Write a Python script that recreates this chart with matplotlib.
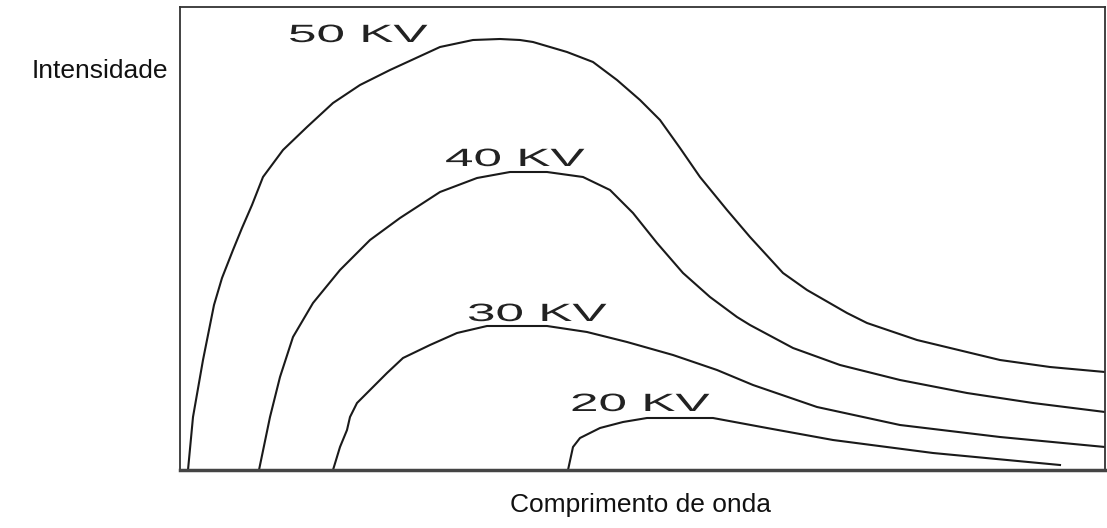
import matplotlib
matplotlib.use('Agg')
import matplotlib.pyplot as plt
from matplotlib.patheffects import AbstractPathEffect
from matplotlib.transforms import Affine2D

# curve data (wavelength, intensity), arbitrary units
kv50_x = [8, 13, 23, 34, 42, 53, 62, 72, 83, 103, 127, 153, 180, 210, 260, 293, 320, 340, 353, 387,
          413, 437, 460, 480, 500, 520, 547, 570, 603, 627, 667, 687, 737, 820, 870, 925]
kv50_y = [0, 53, 110, 165, 192, 220, 242, 265, 293, 320, 343, 367, 385, 400, 423, 430, 431, 430, 428, 418,
          408, 390, 370, 350, 322, 293, 260, 233, 197, 180, 157, 147, 130, 110, 103, 98]

kv40_x = [79, 90, 100, 113, 133, 160, 190, 220, 260, 297, 330, 367, 403, 430, 453, 477, 503, 530,
          557, 570, 613, 660, 720, 787, 853, 925]
kv40_y = [0, 53, 93, 133, 167, 200, 230, 252, 278, 292, 298, 298, 293, 280, 257, 227, 197, 173,
          153, 145, 122, 105, 90, 77, 67, 58]

kv30_x = [153, 160, 167, 170, 177, 190, 207, 223, 250, 277, 307, 367, 407, 447, 493, 537, 573, 637,
          720, 820, 925]
kv30_y = [0, 23, 40, 53, 67, 80, 97, 112, 125, 137, 144, 144, 138, 128, 115, 100, 85, 63,
          45, 33, 23]

kv20_x = [388, 393, 400, 420, 443, 467, 533, 587, 653, 753, 880]
kv20_y = [0, 23, 32, 42, 48, 52, 52, 42, 30, 17, 5]

labels = ['50 KV', '40 KV', '30 KV', '20 KV']
label_x = [108, 265, 287, 390]
label_y = [428, 304, 149, 59]


class Widen(AbstractPathEffect):
    # stretch glyphs horizontally, the original labels are very wide
    def __init__(self, sx):
        super().__init__()
        self.sx = sx

    def draw_path(self, renderer, gc, tpath, affine, rgbFace=None):
        renderer.draw_path(gc, tpath, Affine2D().scale(self.sx, 1) + affine, rgbFace)


plt.rcParams['font.family'] = ['Liberation Sans', 'DejaVu Sans']

fig = plt.figure(figsize=(11.07, 5.28), dpi=100)
ax = fig.add_axes([180 / 1107, 58 / 528, 925 / 1107, 463 / 528])

for xs, ys in [(kv50_x, kv50_y), (kv40_x, kv40_y), (kv30_x, kv30_y), (kv20_x, kv20_y)]:
    ax.plot(xs, ys, color='#1a1a1a', lw=1.5, solid_joinstyle='round')

for txt, tx, ty in zip(labels, label_x, label_y):
    ax.text(tx, ty, txt, fontsize=18, color='#222222', ha='left', va='baseline',
            path_effects=[Widen(2.05)])

ax.set_xlim(0, 925)
ax.set_ylim(0, 463)
ax.set_xticks([])
ax.set_yticks([])

for side in ['left', 'top', 'right']:
    ax.spines[side].set_color('#333333')
    ax.spines[side].set_linewidth(1.3)
ax.spines['bottom'].set_color('#444444')
ax.spines['bottom'].set_linewidth(2.5)

fig.text(100 / 1107, 1 - 71 / 528, 'Intensidade', fontsize=19, color='#111111',
         ha='center', va='center')
fig.text(640 / 1107, 1 - 505 / 528, 'Comprimento de onda', fontsize=19, color='#111111',
         ha='center', va='center')

fig.savefig('out.png', dpi=100)
